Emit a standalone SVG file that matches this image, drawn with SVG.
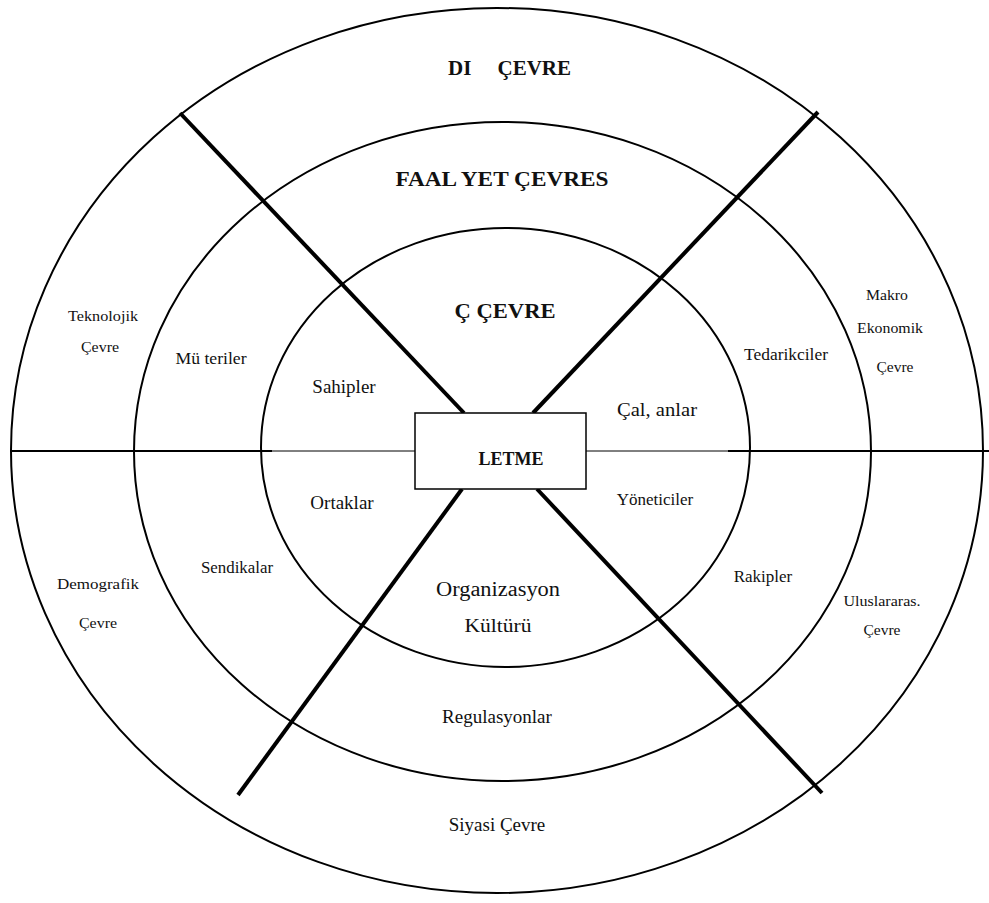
<svg xmlns="http://www.w3.org/2000/svg" width="989" height="903" viewBox="0 0 989 903">
<style>
.ring{fill:none;stroke:#000;stroke-width:2}
.diag{stroke:#000;stroke-width:4;stroke-linecap:butt}
.hthick{stroke:#000;stroke-width:2}
.hthin{stroke:#000;stroke-width:1}
text{font-family:"Liberation Serif","DejaVu Serif","Times New Roman",serif;fill:#111;text-anchor:middle}
.b{font-weight:bold}
</style>
<rect width="989" height="903" fill="#fff"/>
<g id="rings">
<ellipse id="outer" class="ring" cx="497" cy="450.5" rx="486" ry="442.5"/>
<ellipse id="middle" class="ring" cx="502.5" cy="451.5" rx="368.5" ry="329.5"/>
<ellipse id="inner" class="ring" cx="505.5" cy="447.5" rx="244.5" ry="219.5"/>
</g>
<g id="connectors">
<line class="hthick" x1="10" y1="451" x2="272" y2="451"/>
<line class="hthin" x1="272" y1="451" x2="415" y2="451"/>
<line class="hthin" x1="586" y1="451" x2="728" y2="451"/>
<line class="hthick" x1="728" y1="451" x2="989" y2="451"/>
<line class="diag" x1="180" y1="113" x2="464" y2="413"/>
<line class="diag" x1="533" y1="413" x2="818" y2="112"/>
<line class="diag" x1="462" y1="489" x2="238" y2="795"/>
<line class="diag" x1="537" y1="489" x2="822" y2="793"/>
</g>
<g id="isletme">
<rect x="415" y="413" width="171" height="76" fill="#fff" stroke="#000" stroke-width="1.5"/>
<text class="b" x="511" y="465" font-size="18">LETME</text>
</g>
<g id="titles">
<text class="b" x="448" y="75" font-size="21" style="text-anchor:start">DI</text>
<text class="b" x="571" y="75" font-size="21" style="text-anchor:end">ÇEVRE</text>
<text class="b" x="502" y="186" font-size="20" textLength="213" lengthAdjust="spacingAndGlyphs">FAAL  YET ÇEVRES</text>
<text class="b" x="505" y="318" font-size="20" textLength="101" lengthAdjust="spacingAndGlyphs">Ç ÇEVRE</text>
</g>
<g id="outer-labels">
<text x="103" y="321" font-size="14" textLength="70" lengthAdjust="spacingAndGlyphs">Teknolojik</text>
<text x="100" y="352" font-size="14" textLength="38" lengthAdjust="spacingAndGlyphs">Çevre</text>
<text x="887" y="300" font-size="14" textLength="42" lengthAdjust="spacingAndGlyphs">Makro</text>
<text x="890" y="333" font-size="14" textLength="66" lengthAdjust="spacingAndGlyphs">Ekonomik</text>
<text x="895" y="372" font-size="14" textLength="37" lengthAdjust="spacingAndGlyphs">Çevre</text>
<text x="98" y="589" font-size="14" textLength="82" lengthAdjust="spacingAndGlyphs">Demografik</text>
<text x="98" y="628" font-size="14" textLength="38" lengthAdjust="spacingAndGlyphs">Çevre</text>
<text x="882" y="606" font-size="14" textLength="77" lengthAdjust="spacingAndGlyphs">Uluslararas.</text>
<text x="882" y="635" font-size="14" textLength="37" lengthAdjust="spacingAndGlyphs">Çevre</text>
<text x="497" y="831" font-size="19">Siyasi Çevre</text>
</g>
<g id="middle-labels">
<text x="211" y="364" font-size="16" textLength="71" lengthAdjust="spacingAndGlyphs">Mü teriler</text>
<text x="786" y="360" font-size="16" textLength="84" lengthAdjust="spacingAndGlyphs">Tedarikciler</text>
<text x="237" y="573" font-size="16" textLength="72" lengthAdjust="spacingAndGlyphs">Sendikalar</text>
<text x="763" y="582" font-size="17">Rakipler</text>
<text x="497" y="723" font-size="19">Regulasyonlar</text>
</g>
<g id="inner-labels">
<text x="344" y="393" font-size="19">Sahipler</text>
<text x="657" y="416" font-size="18" textLength="80" lengthAdjust="spacingAndGlyphs">Çal, anlar</text>
<text x="342" y="509" font-size="19">Ortaklar</text>
<text x="655" y="505" font-size="17">Yöneticiler</text>
<text x="498" y="596" font-size="20" textLength="124" lengthAdjust="spacingAndGlyphs">Organizasyon</text>
<text x="498" y="632" font-size="19" textLength="67" lengthAdjust="spacingAndGlyphs">Kültürü</text>
</g>
</svg>
